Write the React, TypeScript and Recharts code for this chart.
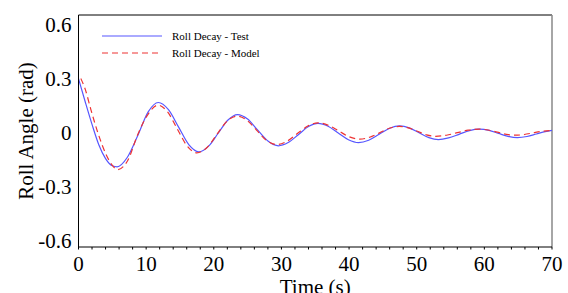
import { LineChart, Line, XAxis, YAxis, Legend, ReferenceLine } from 'recharts'

const FONT = '"Liberation Serif", "Times New Roman", serif'

// roll decay test (blue, solid) - time (s) / angle (rad)
const testTime = [0, 1, 2, 3, 4, 5, 5.7, 7.2, 8.75, 10.3, 11.8, 13.3, 14.8, 16.3, 17.8, 19.2, 20.65, 22.1, 23.5, 25, 26.5, 28.05, 29.55, 31, 32.5, 34, 35.4, 36.9, 38.4, 39.9, 41.4, 42.9, 44.45, 46, 47.5, 48.9, 50.35, 51.8, 53.2, 54.7, 56.25, 57.8, 59.3, 60.7, 62.1, 63.5, 64.9, 66.3, 67.7, 69, 70]
const testAngle = [0.3, 0.17, 0.045, -0.068, -0.145, -0.185, -0.191, -0.139, -0.018, 0.115, 0.167, 0.127, 0.03, -0.067, -0.107, -0.077, -0.004, 0.07, 0.1, 0.075, 0.013, -0.049, -0.074, -0.056, -0.012, 0.033, 0.051, 0.035, -0.003, -0.04, -0.056, -0.043, -0.01, 0.024, 0.037, 0.026, -0.001, -0.028, -0.039, -0.03, -0.01, 0.011, 0.019, 0.012, -0.005, -0.021, -0.028, -0.022, -0.008, 0.005, 0.012]

// roll decay model (red, dashed)
const modelTime = [0.35, 1, 1.85, 2.85, 4.05, 5, 5.8, 7.3, 8.75, 10.25, 11.75, 13.2, 14.6, 16.05, 17.5, 19, 20.45, 21.9, 23.4, 24.9, 26.35, 27.8, 29.3, 30.8, 32.35, 33.9, 35.4, 36.95, 38.5, 40.05, 41.6, 43.05, 44.5, 45.95, 47.4, 48.75, 50.1, 51.45, 52.8, 54.4, 56, 57.6, 59.2, 60.55, 61.9, 63.25, 64.6, 65.9, 67.2, 68.6, 70]
const modelAngle = [0.3, 0.24, 0.125, 0, -0.12, -0.183, -0.206, -0.154, -0.012, 0.1, 0.152, 0.113, 0.02, -0.074, -0.113, -0.083, -0.011, 0.061, 0.091, 0.068, 0.012, -0.044, -0.067, -0.049, -0.006, 0.036, 0.054, 0.04, 0.008, -0.024, -0.037, -0.026, -0.002, 0.024, 0.034, 0.026, 0.007, -0.013, -0.021, -0.015, -0.001, 0.013, 0.019, 0.014, 0.002, -0.01, -0.015, -0.011, -0.002, 0.007, 0.012]

const xTicks = [0, 2, 4, 6, 8, 10, 12, 14, 16, 18, 20, 22, 24, 26, 28, 30, 32, 34, 36, 38, 40, 42, 44, 46, 48, 50, 52, 54, 56, 58, 60, 62, 64, 66, 68, 70]
const xMajorTicks = [0, 10, 20, 30, 40, 50, 60, 70]
const yTicks = [-0.6, -0.3, 0, 0.3, 0.6]
const yMinorTicks = [-0.6, -0.54, -0.48, -0.42, -0.36, -0.3, -0.24, -0.18, -0.12, -0.06, 0, 0.06, 0.12, 0.18, 0.24, 0.3, 0.36, 0.42, 0.48, 0.54, 0.6]

const xDomain = [0, 70]
const yDomain = [-0.637, 0.654]

const testData = testTime.map((t, i) => ({ t, v: testAngle[i] }))
const modelData = modelTime.map((t, i) => ({ t, v: modelAngle[i] }))

const series = [
  { name: 'Roll Decay - Test', color: '#5656ff', dash: undefined, data: testData },
  { name: 'Roll Decay - Model', color: '#ee3333', dash: '6 4', data: modelData },
]

const renderLegend = () => (
  <div style={{ fontFamily: FONT, fontSize: 11, color: '#000' }}>
    {series.map((s) => (
      <div key={s.name} style={{ display: 'flex', alignItems: 'center', height: 17.5 }}>
        <svg width={60} height={4} style={{ marginRight: 10 }}>
          <line x1={0} y1={2} x2={60} y2={2} stroke={s.color} strokeWidth={1.2} strokeDasharray={s.dash} />
        </svg>
        <span>{s.name}</span>
      </div>
    ))}
  </div>
)

export default function App() {
  const tickStyle = { fill: '#000', fontSize: 21, fontFamily: FONT }
  return (
    <div style={{ position: 'absolute', left: 0, top: 0 }}>
      <LineChart width={568} height={293} margin={{ top: 15, right: 16, bottom: 16, left: 0 }}>
        <XAxis
          type="number"
          dataKey="t"
          domain={xDomain}
          allowDataOverflow
          ticks={xTicks}
          interval={0}
          tickFormatter={(v) => (v % 10 === 0 ? String(v) : '')}
          height={30}
          tickSize={2.5}
          tickMargin={6.5}
          stroke="#000"
          tick={tickStyle}
          label={{ value: 'Time (s)', position: 'bottom', offset: 1.6, fill: '#000', fontSize: 21, fontFamily: FONT }}
        />
        <XAxis xAxisId="xMajor" type="number" domain={xDomain} allowDataOverflow ticks={xMajorTicks} interval={0} mirror height={0} tick={false} axisLine={false} tickSize={3.5} stroke="#000" />
        <XAxis xAxisId="xMinor" type="number" domain={xDomain} allowDataOverflow ticks={xTicks} interval={0} mirror height={0} tick={false} axisLine={false} tickSize={1.5} stroke="#000" />
        <YAxis
          type="number"
          domain={yDomain}
          allowDataOverflow
          ticks={yTicks}
          interval={0}
          width={78.5}
          tickLine={false}
          tickSize={0}
          tickMargin={7}
          stroke="#000"
          tick={tickStyle}
          label={{ value: 'Roll Angle (rad)', angle: -90, position: 'insideLeft', offset: 25.5, fill: '#000', fontSize: 21, fontFamily: FONT, style: { textAnchor: 'middle' } }}
        />
        <YAxis yAxisId="yMajor" type="number" domain={yDomain} allowDataOverflow ticks={yTicks} interval={0} mirror width={0} tick={false} axisLine={false} tickSize={5} stroke="#000" />
        <YAxis yAxisId="yMinor" type="number" domain={yDomain} allowDataOverflow ticks={yMinorTicks} interval={0} mirror width={0} tick={false} axisLine={false} tickSize={3} stroke="#000" />
        <ReferenceLine y={yDomain[1]} stroke="#000" ifOverflow="visible" />
        <ReferenceLine x={xDomain[1]} stroke="#888" strokeWidth={1.5} ifOverflow="visible" />
        <Legend
          layout="horizontal"
          verticalAlign="middle"
          align="center"
          wrapperStyle={{ left: 102, top: 27, width: 'auto', height: 'auto' }}
          content={renderLegend}
        />
        {series.map((s) => (
          <Line
            key={s.name}
            data={s.data}
            dataKey="v"
            name={s.name}
            type="monotone"
            stroke={s.color}
            strokeWidth={1.2}
            strokeDasharray={s.dash}
            dot={false}
            activeDot={false}
            isAnimationActive={false}
          />
        ))}
      </LineChart>
    </div>
  )
}
